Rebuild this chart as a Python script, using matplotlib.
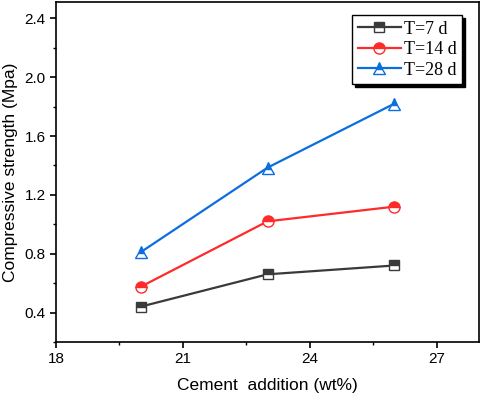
import matplotlib
matplotlib.use("Agg")
import matplotlib.pyplot as plt
from matplotlib.ticker import MultipleLocator

# data
cement = [20, 23, 26]
t7 = [0.44, 0.66, 0.72]
t14 = [0.575, 1.02, 1.12]
t28 = [0.81, 1.385, 1.82]
labels = ["T=7 d", "T=14 d", "T=28 d"]

plt.rcParams['font.family'] = ['Liberation Sans', 'DejaVu Sans']

fig = plt.figure(figsize=(4.84, 3.98), dpi=100)
ax = fig.add_axes([0.1157, 0.1407, 0.874, 0.854])

ax.plot(cement, t7, color='#3a3a3a', lw=1.6, marker='s', ms=7,
        fillstyle='top', markerfacecoloralt='white', mew=1.0, label=labels[0])
ax.plot(cement, t14, color='#ff2a2a', lw=1.6, marker='o', ms=8,
        fillstyle='top', markerfacecoloralt='white', mew=1.0, label=labels[1])
ax.plot(cement, t28, color='#0b6ee0', lw=1.6, marker='^', ms=8,
        fillstyle='top', markerfacecoloralt='white', mew=1.0, label=labels[2])

ax.set_xlim(18, 28)
ax.set_ylim(0.2, 2.51)
ax.xaxis.set_major_locator(MultipleLocator(3))
ax.xaxis.set_minor_locator(MultipleLocator(1.5))
ax.yaxis.set_minor_locator(MultipleLocator(0.2))
ax.set_yticks([0.4, 0.8, 1.2, 1.6, 2.0, 2.4])
ax.set_yticklabels(["0.4", "0.8", "1.2", "1.6", "2.0", "2.4"])

ax.tick_params(which='major', direction='out', length=4, width=1.2, labelsize=11)
ax.tick_params(which='minor', direction='out', length=2.5, width=1.0)
for s in ax.spines.values():
    s.set_linewidth(1.2)

ax.set_xlabel("Cement  addition (wt%)", fontsize=12.5, labelpad=8)
ax.set_ylabel("Compressive strength (Mpa)", fontsize=12.5, labelpad=5)

# legend with solid black drop shadow, Origin style
leg = ax.legend(loc='upper right', bbox_to_anchor=(0.9545, 0.962),
                bbox_transform=fig.transFigure, borderaxespad=0,
                prop={'family': 'Liberation Serif', 'size': 13},
                fancybox=False, edgecolor='black', framealpha=1,
                shadow={'color': 'black', 'alpha': 1},
                handlelength=2.4, handletextpad=0.15, labelspacing=0.2,
                borderpad=0.3)
leg.get_frame().set_linewidth(1.0)

fig.savefig("out.png", dpi=100)
